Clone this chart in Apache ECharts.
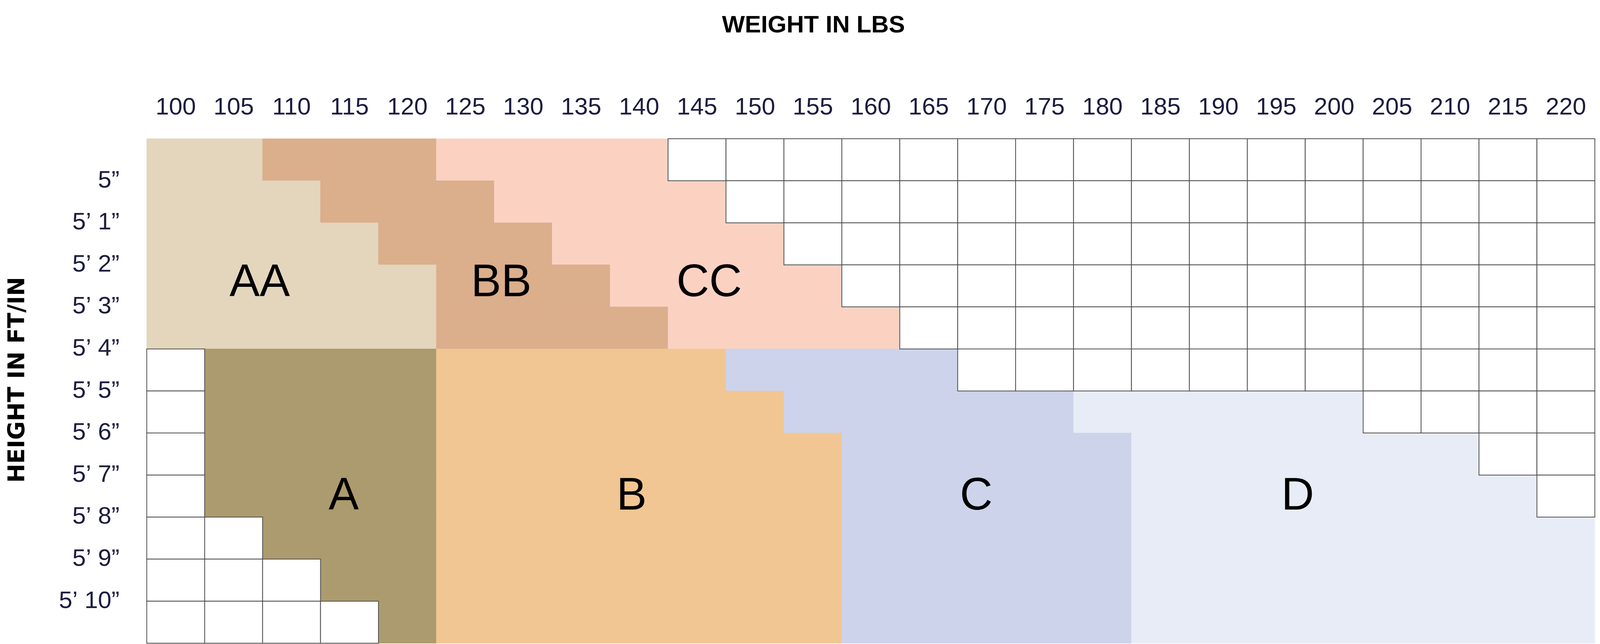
<!DOCTYPE html>
<html>
<head>
<meta charset="utf-8">
<script src="https://cdn.jsdelivr.net/npm/echarts@6/dist/echarts.min.js"></script>
<style>
html,body{margin:0;padding:0;background:#fff;overflow:hidden;}
#chart{width:100vw;height:100vh;}
</style>
</head>
<body>
<div id="chart"></div>
<script>
// ---- data ----
const weights = ['100','105','110','115','120','125','130','135','140','145','150','155','160','165','170','175','180','185','190','195','200','205','210','215','220'];
// height labels sit on the row boundaries 1..11
const heightLabels = ['5\u201D','5\u2019 1\u201D','5\u2019 2\u201D','5\u2019 3\u201D','5\u2019 4\u201D','5\u2019 5\u201D','5\u2019 6\u201D','5\u2019 7\u201D','5\u2019 8\u201D','5\u2019 9\u201D','5\u2019 10\u201D'];
// one string per height row, one char per weight column: a=AA b=BB c=CC A B C D, '.' = no size
const sizeRows = [
  'aabbbcccc................',
  'aaabbbcccc...............',
  'aaaabbbcccc..............',
  'aaaaabbbcccc.............',
  'aaaaabbbbcccc............',
  '.AAAABBBBBCCCC...........',
  '.AAAABBBBBBCCCCCDDDDD....',
  '.AAAABBBBBBBCCCCCDDDDDD..',
  '.AAAABBBBBBBCCCCCDDDDDDD.',
  '..AAABBBBBBBCCCCCDDDDDDDD',
  '...AABBBBBBBCCCCCDDDDDDDD',
  '....ABBBBBBBCCCCCDDDDDDDD'
];
const sizeNames = ['AA','BB','CC','A','B','C','D'];
const sizeCodes = ['a','b','c','A','B','C','D'];
const sizeColors = ['#E3D6BC','#DBAE8C','#FBD2C2','#AC9B6E','#F1C692','#CCD3EB','#E8ECF6'];
// label anchor for each size, in (weight column, height row) units
const sizeLabelCol = [1.95, 6.12, 9.71, 3.40, 8.37, 14.32, 19.87];
const sizeLabelRow = [3.45, 3.45, 3.45, 8.52, 8.52, 8.52, 8.52];

// ---- build series data ----
const filled = [], empty = [];
sizeRows.forEach((row, r) => {
  for (let c = 0; c < row.length; c++) {
    const idx = sizeCodes.indexOf(row[c]);
    if (idx >= 0) filled.push([c, r, idx]); else empty.push([c, r, -1]);
  }
});
const labelData = sizeNames.map((n, i) => [sizeLabelCol[i], sizeLabelRow[i], i]);

// layout follows the real viewport (designed for 4339 x 1648)
const VW = window.innerWidth || 4339, VH = window.innerHeight || 1648;
const kx = VW / 4339, ky = VH / 1648, kf = ky;
const el = document.getElementById('chart');
el.style.width = VW + 'px';
el.style.height = VH + 'px';

const FONT = '"Liberation Sans", Arial, sans-serif';
const FONT_WIDE = '"DejaVu Sans", "Liberation Sans", Arial, sans-serif';
const chart = echarts.init(el, null, {renderer: 'canvas', width: VW, height: VH});

function cellRect(api) {
  const c = api.value(0), r = api.value(1);
  const p0 = api.coord([c, r]);
  const p1 = api.coord([c + 1, r + 1]);
  return {x: p0[0], y: p0[1], width: p1[0] - p0[0], height: p1[1] - p0[1]};
}

chart.setOption({
  backgroundColor: '#ffffff',
  animation: false,
  grid: {left: 398 * kx, top: 355 * ky, width: 3927 * kx, height: 1291 * ky, containLabel: false},
  xAxis: [
    {
      type: 'category', data: weights, position: 'top', boundaryGap: true,
      axisLine: {show: false}, axisTick: {show: false}, splitLine: {show: false},
      axisLabel: {fontSize: 62 * kf, color: '#1d1c40', fontFamily: FONT, margin: 48 * ky, interval: 0}
    },
    {type: 'value', min: 0, max: 25, show: false}
  ],
  yAxis: [
    {
      type: 'value', min: 0, max: 12, interval: 1, inverse: true,
      axisLine: {show: false}, axisTick: {show: false}, splitLine: {show: false},
      axisLabel: {
        fontSize: 62 * kf, color: '#1d1c40', fontFamily: FONT, margin: 74 * kx,
        formatter: v => (v >= 1 && v <= heightLabels.length) ? heightLabels[v - 1] : ''
      }
    }
  ],
  series: [
    {
      type: 'custom', xAxisIndex: 1, yAxisIndex: 0, data: filled, silent: true,
      renderItem: (params, api) => {
        const col = sizeColors[api.value(2)];
        return {type: 'rect', shape: cellRect(api), style: {fill: col, stroke: col, lineWidth: 1}};
      }
    },
    {
      type: 'custom', xAxisIndex: 1, yAxisIndex: 0, data: empty, silent: true,
      renderItem: (params, api) => ({
        type: 'rect', shape: cellRect(api),
        style: {fill: '#ffffff', stroke: '#4d4d4d', lineWidth: 2}
      })
    },
    {
      type: 'custom', xAxisIndex: 1, yAxisIndex: 0, data: labelData, silent: true,
      renderItem: (params, api) => {
        const p = api.coord([api.value(0), api.value(1)]);
        return {
          type: 'text', x: p[0], y: p[1],
          style: {
            text: sizeNames[api.value(2)], fill: '#000000', fontSize: 116 * kf, fontFamily: FONT,
            align: 'center', verticalAlign: 'middle', textAlign: 'center', textVerticalAlign: 'middle'
          }
        };
      }
    }
  ],
  graphic: [
    {
      type: 'text', x: 2206 * kx, y: 66 * ky,
      style: {
        text: 'WEIGHT IN LBS', fill: '#000000', fontSize: 62 * kf, fontWeight: 'bold', fontFamily: FONT,
        align: 'center', verticalAlign: 'middle', textAlign: 'center', textVerticalAlign: 'middle'
      }
    },
    {
      type: 'text', x: 50 * kx, y: 972 * ky, rotation: Math.PI / 2,
      style: {
        text: 'HEIGHT IN FT/IN', fill: '#000000', fontSize: 58 * kf, fontWeight: 'bold', fontFamily: FONT_WIDE,
        align: 'center', verticalAlign: 'middle', textAlign: 'center', textVerticalAlign: 'middle'
      }
    }
  ]
});
</script>
</body>
</html>
